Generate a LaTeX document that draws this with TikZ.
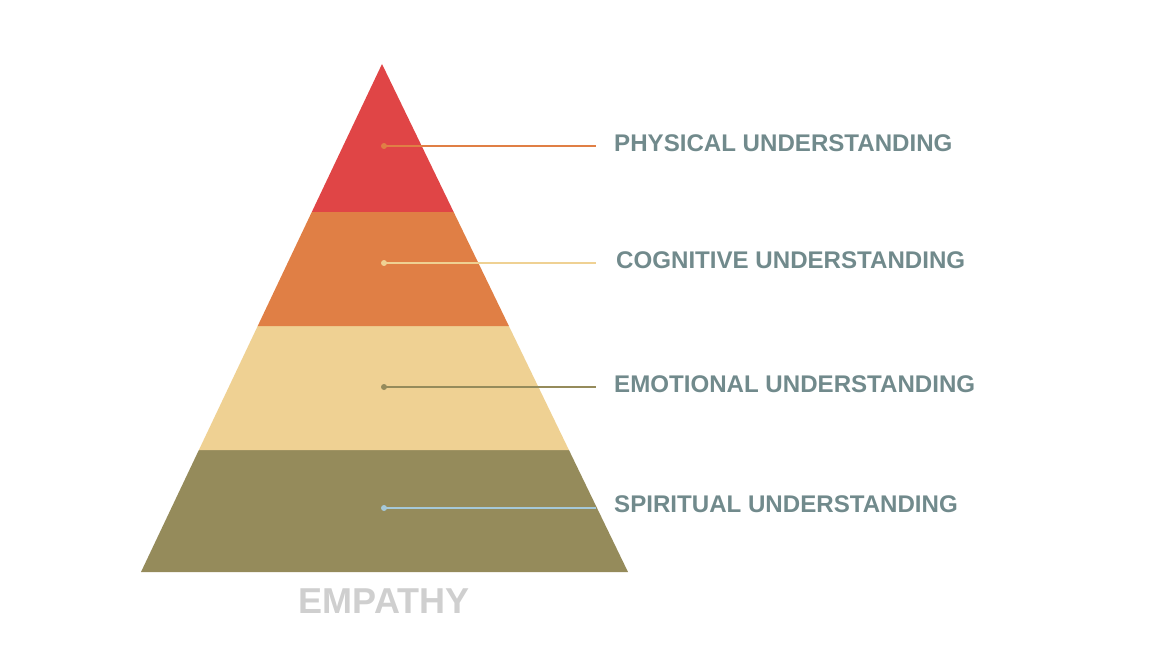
\documentclass[tikz,border=0pt]{standalone}
\usepackage{fontspec}
\setmainfont{Liberation Sans}
\usetikzlibrary{calc}
\definecolor{cRed}{HTML}{E04546}
\definecolor{cOrange}{HTML}{E07F45}
\definecolor{cBeige}{HTML}{EFD193}
\definecolor{cOlive}{HTML}{958B5B}
\definecolor{cBlue}{HTML}{A5C8D8}
\definecolor{cText}{HTML}{718A8C}
\definecolor{cGray}{HTML}{CFCFCF}
\begin{document}
\begin{tikzpicture}[x=1pt,y=-1pt,
  lbl/.style={anchor=west,inner sep=0pt,text=cText,font=\fontsize{24.1}{25}\selectfont\bfseries},
  dotnode/.style={circle,inner sep=0pt,minimum size=6pt,fill=#1},
  leader/.style={draw=#1,line width=1.2pt}]
\useasboundingbox (0,0) rectangle (1170,658);
% pyramid bands (apex 382,64 ; base 141..628 at 572)
\coordinate (apex) at (382,64);
\coordinate (bl) at (141,572);
\coordinate (br) at (628,572);
\fill[cOlive] ($(apex)!{(450-64)/(572-64)}!(bl)$) -- ($(apex)!{(450-64)/(572-64)}!(br)$) -- (br) -- (bl) -- cycle;
\fill[cBeige] ($(apex)!{(326-64)/(572-64)}!(bl)$) -- ($(apex)!{(326-64)/(572-64)}!(br)$) -- ($(apex)!{(450-64)/(572-64)}!(br)$) -- ($(apex)!{(450-64)/(572-64)}!(bl)$) -- cycle;
\fill[cOrange] ($(apex)!{(212-64)/(572-64)}!(bl)$) -- ($(apex)!{(212-64)/(572-64)}!(br)$) -- ($(apex)!{(326-64)/(572-64)}!(br)$) -- ($(apex)!{(326-64)/(572-64)}!(bl)$) -- cycle;
\fill[cRed] (apex) -- ($(apex)!{(212-64)/(572-64)}!(br)$) -- ($(apex)!{(212-64)/(572-64)}!(bl)$) -- cycle;
% labels
\node[lbl] (l1) at (614,143) {PHYSICAL UNDERSTANDING};
\node[lbl] (l2) at (616,260) {COGNITIVE UNDERSTANDING};
\node[lbl] (l3) at (614,384) {EMOTIONAL UNDERSTANDING};
\node[lbl] (l4) at (614,504) {SPIRITUAL UNDERSTANDING};
% dots and leader ends
\node[dotnode=cOrange] (d1) at (384,146) {};
\node[dotnode=cBeige] (d2) at (384,263) {};
\node[dotnode=cOlive] (d3) at (384,387) {};
\node[dotnode=cBlue] (d4) at (384,508) {};
\coordinate (e1) at (596,146);
\coordinate (e2) at (596,263);
\coordinate (e3) at (596,387);
\coordinate (e4) at (596,508);
\draw[leader=cOrange] (d1.center) -- (e1);
\draw[leader=cBeige] (d2.center) -- (e2);
\draw[leader=cOlive] (d3.center) -- (e3);
\draw[leader=cBlue] (d4.center) -- (e4);
% base title
\node[inner sep=0pt,text=cGray,font=\fontsize{36}{37}\selectfont\bfseries] (title) at (384,601) {EMPATHY};
\end{tikzpicture}
\end{document}
